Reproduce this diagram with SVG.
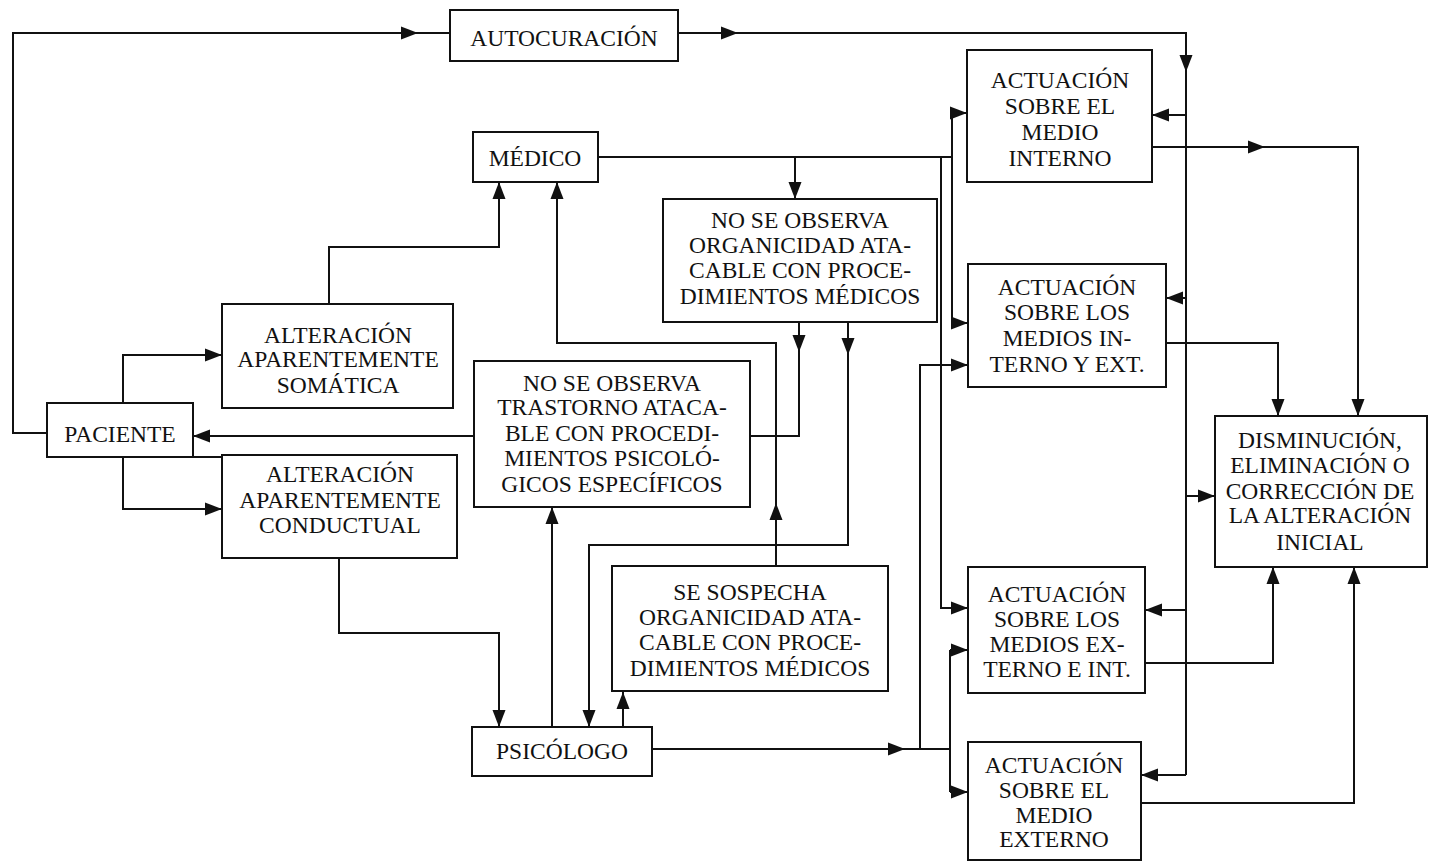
<svg xmlns="http://www.w3.org/2000/svg" width="1429" height="862" viewBox="0 0 1429 862" font-family="Liberation Serif, DejaVu Serif, serif">
<style>
.box{fill:#fff;stroke:#111;stroke-width:2}
.t{font-size:23.5px;fill:#111;text-anchor:middle}
.c{fill:none;stroke:#111;stroke-width:2}
.a{fill:#111}
</style>
<defs>
<path id="ah" class="a" d="M0,0 L-17,-6.5 L-17,6.5 Z"/>
</defs>
<rect width="1429" height="862" fill="#fff"/>
<g id="connectors">
<path class="c" d="M47,433 H13 V33 H450"/>
<path class="c" d="M678,33 H1186 V775"/>
<path class="c" d="M1186,115 H1152 M1186,298 H1166 M1186,496 H1215 M1186,610 H1145 M1186,775 H1141"/>
<path class="c" d="M1152,147 H1358 V416"/>
<path class="c" d="M1166,343 H1278 V416"/>
<path class="c" d="M1145,663 H1273 V567"/>
<path class="c" d="M1141,803 H1354 V567"/>
<path class="c" d="M598,157 H952 M952,113 V323 M952,113 H967 M952,323 H968"/>
<path class="c" d="M795,157 V199"/>
<path class="c" d="M941,157 V608 H968"/>
<path class="c" d="M652,749 H950 M920,749 V365 H968 M950,650 V792 M950,650 H968 M950,792 H968"/>
<path class="c" d="M799,322 V436 H750 M474,436 H193"/>
<path class="c" d="M848,322 V545 H589 V727"/>
<path class="c" d="M776,566 V343 H557 V182"/>
<path class="c" d="M552,727 V507"/>
<path class="c" d="M623,727 V692"/>
<path class="c" d="M339,558 V633 H499 V727"/>
<path class="c" d="M329,304 V247 H499 V182"/>
<path class="c" d="M123,403 V355 H222 M123,457 V509 H222"/>
<path class="c" d="M193,457 H222"/>
<use href="#ah" transform="translate(418,33)"/>
<use href="#ah" transform="translate(738,33)"/>
<use href="#ah" transform="translate(1186,72) rotate(90)"/>
<use href="#ah" transform="translate(1152,115) rotate(180)"/>
<use href="#ah" transform="translate(1166,298) rotate(180)"/>
<use href="#ah" transform="translate(1215,496)"/>
<use href="#ah" transform="translate(1145,610) rotate(180)"/>
<use href="#ah" transform="translate(1141,775) rotate(180)"/>
<use href="#ah" transform="translate(1265,147)"/>
<use href="#ah" transform="translate(1358,416) rotate(90)"/>
<use href="#ah" transform="translate(1278,416) rotate(90)"/>
<use href="#ah" transform="translate(1273,567) rotate(-90)"/>
<use href="#ah" transform="translate(1354,567) rotate(-90)"/>
<use href="#ah" transform="translate(967,113)"/>
<use href="#ah" transform="translate(968,323)"/>
<use href="#ah" transform="translate(968,365)"/>
<use href="#ah" transform="translate(968,608)"/>
<use href="#ah" transform="translate(968,650)"/>
<use href="#ah" transform="translate(968,792)"/>
<use href="#ah" transform="translate(905,749)"/>
<use href="#ah" transform="translate(795,199) rotate(90)"/>
<use href="#ah" transform="translate(799,352) rotate(90)"/>
<use href="#ah" transform="translate(848,355) rotate(90)"/>
<use href="#ah" transform="translate(193,436) rotate(180)"/>
<use href="#ah" transform="translate(222,355)"/>
<use href="#ah" transform="translate(222,509)"/>
<use href="#ah" transform="translate(499,182) rotate(-90)"/>
<use href="#ah" transform="translate(557,182) rotate(-90)"/>
<use href="#ah" transform="translate(552,507) rotate(-90)"/>
<use href="#ah" transform="translate(776,503) rotate(-90)"/>
<use href="#ah" transform="translate(499,727) rotate(90)"/>
<use href="#ah" transform="translate(589,727) rotate(90)"/>
<use href="#ah" transform="translate(623,692) rotate(-90)"/>
</g>
<g id="autocuracion"><rect class="box" x="450" y="10" width="228" height="51"/><text class="t" x="564" y="46">AUTOCURACIÓN</text></g>
<g id="medico"><rect class="box" x="473" y="132" width="125" height="50"/><text class="t" x="535" y="166">MÉDICO</text></g>
<g id="no-organicidad"><rect class="box" x="663" y="199" width="274" height="123"/><text class="t"><tspan x="800" y="228">NO SE OBSERVA</tspan><tspan x="800" y="253">ORGANICIDAD ATA-</tspan><tspan x="800" y="278">CABLE CON PROCE-</tspan><tspan x="800" y="304">DIMIENTOS MÉDICOS</tspan></text></g>
<g id="act-interno"><rect class="box" x="967" y="50" width="185" height="132"/><text class="t"><tspan x="1060" y="88">ACTUACIÓN</tspan><tspan x="1060" y="114">SOBRE EL</tspan><tspan x="1060" y="140">MEDIO</tspan><tspan x="1060" y="166">INTERNO</tspan></text></g>
<g id="act-int-ext"><rect class="box" x="968" y="264" width="198" height="123"/><text class="t"><tspan x="1067" y="295">ACTUACIÓN</tspan><tspan x="1067" y="320">SOBRE LOS</tspan><tspan x="1067" y="346">MEDIOS IN-</tspan><tspan x="1067" y="372">TERNO Y EXT.</tspan></text></g>
<g id="disminucion"><rect class="box" x="1215" y="416" width="212" height="151"/><text class="t"><tspan x="1320" y="448">DISMINUCIÓN,</tspan><tspan x="1320" y="473">ELIMINACIÓN O</tspan><tspan x="1320" y="499">CORRECCIÓN DE</tspan><tspan x="1320" y="523">LA ALTERACIÓN</tspan><tspan x="1320" y="550">INICIAL</tspan></text></g>
<g id="act-ext-int"><rect class="box" x="968" y="567" width="177" height="126"/><text class="t"><tspan x="1057" y="602">ACTUACIÓN</tspan><tspan x="1057" y="627">SOBRE LOS</tspan><tspan x="1057" y="652">MEDIOS EX-</tspan><tspan x="1057" y="677">TERNO E INT.</tspan></text></g>
<g id="act-externo"><rect class="box" x="968" y="742" width="173" height="118"/><text class="t"><tspan x="1054" y="773">ACTUACIÓN</tspan><tspan x="1054" y="798">SOBRE EL</tspan><tspan x="1054" y="823">MEDIO</tspan><tspan x="1054" y="847">EXTERNO</tspan></text></g>
<g id="paciente"><rect class="box" x="47" y="403" width="146" height="54"/><text class="t" x="120" y="442">PACIENTE</text></g>
<g id="somatica"><rect class="box" x="222" y="304" width="231" height="104"/><text class="t"><tspan x="338" y="343">ALTERACIÓN</tspan><tspan x="338" y="367">APARENTEMENTE</tspan><tspan x="338" y="393">SOMÁTICA</tspan></text></g>
<g id="conductual"><rect class="box" x="222" y="455" width="235" height="103"/><text class="t"><tspan x="340" y="482">ALTERACIÓN</tspan><tspan x="340" y="508">APARENTEMENTE</tspan><tspan x="340" y="533">CONDUCTUAL</tspan></text></g>
<g id="no-trastorno"><rect class="box" x="474" y="361" width="276" height="146"/><text class="t"><tspan x="612" y="391">NO SE OBSERVA</tspan><tspan x="612" y="415">TRASTORNO ATACA-</tspan><tspan x="612" y="441">BLE CON PROCEDI-</tspan><tspan x="612" y="466">MIENTOS PSICOLÓ-</tspan><tspan x="612" y="492">GICOS ESPECÍFICOS</tspan></text></g>
<g id="se-sospecha"><rect class="box" x="612" y="566" width="276" height="125"/><text class="t"><tspan x="750" y="600">SE SOSPECHA</tspan><tspan x="750" y="625">ORGANICIDAD ATA-</tspan><tspan x="750" y="650">CABLE CON PROCE-</tspan><tspan x="750" y="676">DIMIENTOS MÉDICOS</tspan></text></g>
<g id="psicologo"><rect class="box" x="472" y="727" width="180" height="49"/><text class="t" x="562" y="759">PSICÓLOGO</text></g>
</svg>
